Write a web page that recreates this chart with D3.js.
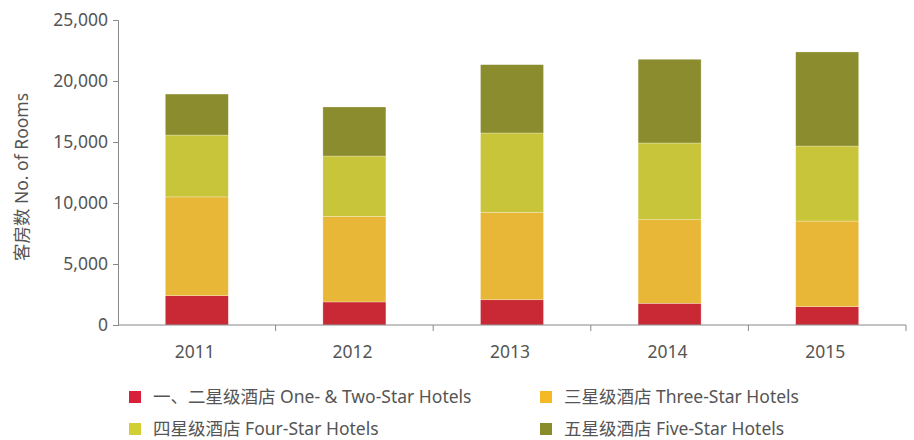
<!DOCTYPE html>
<html>
<head>
<meta charset="utf-8">
<script src="https://cdn.jsdelivr.net/npm/d3@7"></script>
<style>
  body { margin: 0; background: #fff; }
  svg text { font-family: "Noto Sans", "Noto Sans CJK SC", sans-serif; fill: #555; }
</style>
</head>
<body>
<svg></svg>
<script>
let years = ["2011", "2012", "2013", "2014", "2015"]
let keys = ["oneTwo", "three", "four", "five"]
let labels = ["一、二星级酒店 One- & Two-Star Hotels", "三星级酒店 Three-Star Hotels",
              "四星级酒店 Four-Star Hotels", "五星级酒店 Five-Star Hotels"]
let colors = ["#c92835", "#e9b737", "#c9c53a", "#8a8c2e"]
let swatchColors = ["#d9203a", "#f5b925", "#d1cf33", "#8a8c2a"]

let oneTwoStar = [2400, 1890, 2070, 1780, 1500]
let threeStar = [8100, 7020, 7170, 6850, 7020]
let fourStar = [5070, 4940, 6500, 6290, 6150]
let fiveStar = [3360, 4020, 5600, 6860, 7710]
let yTicks = [0, 5000, 10000, 15000, 20000, 25000]

let width = 914
let height = 440

let svg = d3.select('svg').attr("width", width).attr("height", height)

let rows = years.map((y, i) => ({
    year: y, oneTwo: oneTwoStar[i], three: threeStar[i], four: fourStar[i], five: fiveStar[i]
}))

let xBand = d3.scaleBand().domain(years).range([118, 906])
let yScale = d3.scaleLinear().domain([0, 25000]).range([325, 20])

let stacked = d3.stack().keys(keys)(rows)

svg.selectAll('g.layer')
    .data(stacked)
    .enter()
    .append('g')
    .attr('class', 'layer')
    .attr('fill', (d, i) => colors[i])
    .selectAll('rect')
    .data(d => d)
    .enter()
    .append('rect')
    .attr('x', d => xBand(d.data.year) + xBand.bandwidth() / 2 - 31.5)
    .attr('width', 63)
    .attr('y', d => yScale(d[1]))
    .attr('height', d => yScale(d[0]) - yScale(d[1]))
    .attr('stroke', 'rgba(255,255,255,0.45)')
    .attr('stroke-width', 0.6)

// y axis
let yAxis = d3.axisLeft(yScale).tickValues(yTicks).tickSize(5).tickPadding(5)
    .tickFormat(d3.format(","))
let yg = svg.append('g').attr('transform', 'translate(118,0)').call(yAxis)
yg.select('.domain').attr('stroke', '#888')
yg.selectAll('.tick line').attr('stroke', '#888')
yg.selectAll('text').style('font-size', '17.5px').attr('fill', '#555')

// x axis: ticks between bands
let xg = svg.append('g').attr('transform', 'translate(0,325)')
xg.append('line').attr('x1', 118).attr('x2', 906).attr('stroke', '#888')
xg.selectAll('line.sep')
    .data(years)
    .enter()
    .append('line')
    .attr('class', 'sep')
    .attr('x1', d => xBand(d) + xBand.bandwidth())
    .attr('x2', d => xBand(d) + xBand.bandwidth())
    .attr('y1', 0).attr('y2', 6)
    .attr('stroke', '#888')
xg.selectAll('text')
    .data(years)
    .enter()
    .append('text')
    .attr('x', d => xBand(d) + xBand.bandwidth() / 2 - 2)
    .attr('y', 33)
    .attr('text-anchor', 'middle')
    .style('font-size', '17.5px')
    .text(d => d)

// y label
svg.append('text')
    .attr('transform', 'translate(28,177) rotate(-90)')
    .attr('text-anchor', 'middle')
    .style('font-size', '17.5px')
    .text('客房数 No. of Rooms')

// legend
let legend = svg.selectAll('g.legend')
    .data(labels)
    .enter()
    .append('g')
    .attr('class', 'legend')
    .attr('transform', (d, i) => 'translate(' + (i % 2 === 0 ? 129 : 540) + ',' + (i < 2 ? 391 : 423) + ')')
legend.append('rect').attr('width', 12).attr('height', 12).attr('fill', (d, i) => swatchColors[i])
legend.append('text')
    .attr('x', 24)
    .attr('y', 6)
    .attr('dy', '0.35em')
    .style('font-size', '17.5px')
    .text(d => d)
</script>
</body>
</html>
